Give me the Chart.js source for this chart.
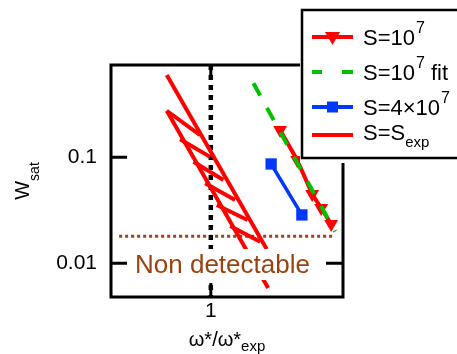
<!DOCTYPE html>
<html>
<head>
<meta charset="utf-8">
<script src="https://cdn.jsdelivr.net/npm/chart.js@4"></script>
<style>
  html, body { margin: 0; padding: 0; background: #fff; }
  #wrap { width: 457px; height: 354px; }
</style>
</head>
<body>
<div id="wrap"><canvas id="wsat_chart"></canvas></div>
<script>
const FONT = "'Liberation Sans', Arial, sans-serif";

// S = 10^7 simulation points
const s7X = [1.490, 1.644, 1.792, 1.887, 1.999];
const s7Y = [0.181, 0.0943, 0.0451, 0.0332, 0.0235];
// S = 10^7 fit
const fitX = [1.278, 2.045];
const fitY = [0.499, 0.0199];
// S = 4x10^7
const s4X = [1.415, 1.689];
const s4Y = [0.0865, 0.0286];
// S = S_exp band: upper (right) edge and lower (left) edge
const upperX = [0.776, 1.380];
const upperY = [0.598, 0.0136];
const lowerX = [0.776, 1.391];
const lowerY = [0.275, 0.00585];
// hatch strokes, from lower edge to upper edge
const hatchX0 = [0.776, 0.838, 0.905, 0.968, 1.035, 1.118];
const hatchY0 = [0.275, 0.148, 0.0909, 0.0568, 0.0355, 0.0225];
const hatchX1 = [0.940, 0.996, 1.075, 1.150, 1.235, 1.328];
const hatchY1 = [0.162, 0.101, 0.0611, 0.0396, 0.0256, 0.0160];

// detection limit and omega* = omega*_exp marker
const detectLimit = 0.018;
const detectX = [0.59, 2.045];
const expX = 1;

const xTicks = [1];
const yTicks = [0.01, 0.1];
const xRange = [0.563, 2.14];
const yRange = [0.00481, 0.743];

const RED = '#ff0000';
const GREEN = '#00c000';
const BLUE = '#0038ff';
const BROWN = '#9c4210';

const pts = (xs, ys) => xs.map((x, i) => ({ x: x, y: ys[i] }));

const hatchData = [];
hatchX0.forEach((x, i) => {
  hatchData.push({ x: x, y: hatchY0[i] });
  hatchData.push({ x: hatchX1[i], y: hatchY1[i] });
  hatchData.push({ x: hatchX1[i], y: null });
});

// draws a run of text pieces (normal / super / sub) starting at x
const drawRuns = (ctx, runs, x, y) => {
  runs.forEach(r => {
    ctx.font = `${r.size}px ${FONT}`;
    ctx.fillText(r.text, x, y + (r.dy || 0));
    x += ctx.measureText(r.text).width + (r.gap || 0);
  });
};
const runsWidth = (ctx, runs) => runs.reduce((w, r) => {
  ctx.font = `${r.size}px ${FONT}`;
  return w + ctx.measureText(r.text).width + (r.gap || 0);
}, 0);

const decor = {
  id: 'decor',
  afterDatasetsDraw(chart) {
    const { ctx, chartArea: a, scales } = chart;
    const xs = scales.x, ys = scales.y;
    ctx.save();

    // "Non detectable" label with opaque background
    ctx.fillStyle = '#fff';
    ctx.fillRect(129, 249, 183, 31);
    ctx.fillStyle = BROWN;
    ctx.textBaseline = 'alphabetic';
    ctx.textAlign = 'left';
    ctx.font = `26px ${FONT}`;
    ctx.fillText('Non detectable', 135, 273);

    // frame
    ctx.strokeStyle = '#000';
    ctx.lineWidth = 3;
    ctx.strokeRect(a.left, a.top, a.right - a.left, a.bottom - a.top);

    // inward tick marks
    ctx.lineWidth = 3;
    ctx.beginPath();
    yTicks.forEach(v => {
      const py = ys.getPixelForValue(v);
      ctx.moveTo(a.left, py); ctx.lineTo(a.left + 16, py);
      ctx.moveTo(a.right, py); ctx.lineTo(a.right - 17, py);
    });
    xTicks.forEach(v => {
      const px = xs.getPixelForValue(v);
      ctx.moveTo(px, a.bottom); ctx.lineTo(px, a.bottom - 14);
      ctx.moveTo(px, a.top); ctx.lineTo(px, a.top + 12);
    });
    ctx.stroke();

    // axis titles
    ctx.fillStyle = '#000';
    const xt = [{ text: 'ω*/ω*', size: 20 }, { text: 'exp', size: 15, dy: 5 }];
    drawRuns(ctx, xt, (a.left + a.right) / 2 - runsWidth(ctx, xt) / 2, 346);
    const yt = [{ text: 'W', size: 20 }, { text: 'sat', size: 14, dy: 10 }];
    ctx.save();
    ctx.translate(29, (a.top + a.bottom) / 2);
    ctx.rotate(-Math.PI / 2);
    drawRuns(ctx, yt, -runsWidth(ctx, yt) / 2, 0);
    ctx.restore();

    // legend box
    ctx.fillStyle = '#fff';
    ctx.fillRect(300, 8, 170, 155);
    ctx.lineWidth = 2.5;
    ctx.strokeStyle = '#000';
    ctx.strokeRect(302, 10, 170, 148);

    const lx0 = 312, lx1 = 353, lxm = 332.5, tx = 363;
    ctx.lineWidth = 4;
    // S=10^7
    ctx.strokeStyle = RED;
    ctx.fillStyle = RED;
    ctx.beginPath(); ctx.moveTo(lx0, 37); ctx.lineTo(lx1, 37); ctx.stroke();
    ctx.beginPath();
    ctx.moveTo(lxm - 7.5, 32); ctx.lineTo(lxm + 7.5, 32); ctx.lineTo(lxm, 45); ctx.closePath(); ctx.fill();
    // S=10^7 fit
    ctx.strokeStyle = GREEN;
    ctx.beginPath(); ctx.moveTo(lx0, 72); ctx.lineTo(lx0 + 10, 72); ctx.moveTo(lx1 - 11, 72); ctx.lineTo(lx1, 72); ctx.stroke();
    // S=4x10^7
    ctx.strokeStyle = BLUE;
    ctx.fillStyle = BLUE;
    ctx.beginPath(); ctx.moveTo(lx0, 107); ctx.lineTo(lx1, 107); ctx.stroke();
    ctx.fillRect(lxm - 5.5, 101.5, 11, 11);
    // S=S_exp
    ctx.strokeStyle = RED;
    ctx.beginPath(); ctx.moveTo(lx0, 135); ctx.lineTo(lx1, 135); ctx.stroke();

    ctx.fillStyle = '#000';
    drawRuns(ctx, [{ text: 'S=10', size: 22, gap: 1 }, { text: '7', size: 16, dy: -12 }], tx, 45);
    drawRuns(ctx, [{ text: 'S=10', size: 22, gap: 1 }, { text: '7', size: 16, dy: -12 }, { text: ' fit', size: 22 }], tx, 80);
    drawRuns(ctx, [{ text: 'S=4×10', size: 22, gap: 1 }, { text: '7', size: 16, dy: -12 }], tx, 115);
    drawRuns(ctx, [{ text: 'S=S', size: 22 }, { text: 'exp', size: 15, dy: 7 }], tx, 140);

    ctx.restore();
  }
};

new Chart(document.getElementById('wsat_chart'), {
  type: 'line',
  data: {
    datasets: [
      {
        label: 'S=10^7 fit',
        data: pts(fitX, fitY),
        borderColor: GREEN,
        borderWidth: 4,
        borderDash: [14, 14],
        pointRadius: 0,
        order: 0
      },
      {
        label: 'S=10^7',
        data: pts(s7X, s7Y),
        borderColor: RED,
        backgroundColor: RED,
        borderWidth: 4,
        pointStyle: 'triangle',
        pointRotation: 180,
        pointRadius: 8,
        pointBorderWidth: 0,
        order: 1
      },
      {
        label: 'S=4x10^7',
        data: pts(s4X, s4Y),
        borderColor: BLUE,
        backgroundColor: BLUE,
        borderWidth: 3.5,
        pointStyle: 'rect',
        pointRadius: 8,
        pointBorderWidth: 0,
        order: 2
      },
      {
        label: 'S=Sexp upper',
        data: pts(upperX, upperY),
        borderColor: RED,
        borderWidth: 4,
        pointRadius: 0,
        order: 3
      },
      {
        label: 'S=Sexp lower',
        data: pts(lowerX, lowerY),
        borderColor: RED,
        borderWidth: 4,
        pointRadius: 0,
        order: 4
      },
      {
        label: 'hatch',
        data: hatchData,
        borderColor: RED,
        borderWidth: 4,
        pointRadius: 0,
        spanGaps: false,
        order: 5
      },
      {
        label: 'omega*exp',
        data: [{ x: expX, y: yRange[1] }, { x: expX, y: yRange[0] }],
        borderColor: '#000',
        borderWidth: 4.5,
        borderDash: [5, 5],
        pointRadius: 0,
        order: 6
      },
      {
        label: 'detection limit',
        data: detectX.map(x => ({ x: x, y: detectLimit })),
        borderColor: BROWN,
        borderWidth: 3,
        borderDash: [3, 3],
        pointRadius: 0,
        order: 7
      }
    ]
  },
  options: {
    responsive: true,
    maintainAspectRatio: false,
    animation: false,
    devicePixelRatio: 1,
    layout: { padding: { left: 0, top: 65, right: 114, bottom: 0 } },
    elements: { line: { tension: 0, fill: false } },
    plugins: {
      legend: { display: false },
      tooltip: { enabled: false }
    },
    scales: {
      x: {
        type: 'logarithmic',
        min: xRange[0],
        max: xRange[1],
        afterBuildTicks: (scale) => { scale.ticks = xTicks.map(v => ({ value: v })); },
        afterFit: (scale) => { scale.height = 57; },
        grid: { display: false, drawTicks: false },
        border: { display: false },
        ticks: {
          autoSkip: false,
          maxRotation: 0,
          padding: 2,
          color: '#000',
          font: { family: FONT, size: 21 },
          callback: (v) => String(v)
        }
      },
      y: {
        type: 'logarithmic',
        min: yRange[0],
        max: yRange[1],
        afterBuildTicks: (scale) => { scale.ticks = yTicks.map(v => ({ value: v })); },
        afterFit: (scale) => { scale.width = 111; },
        grid: { display: false, drawTicks: false },
        border: { display: false },
        ticks: {
          autoSkip: false,
          padding: 14,
          color: '#000',
          font: { family: FONT, size: 21 },
          callback: (v) => String(v)
        }
      }
    }
  },
  plugins: [decor]
});
</script>
</body>
</html>
